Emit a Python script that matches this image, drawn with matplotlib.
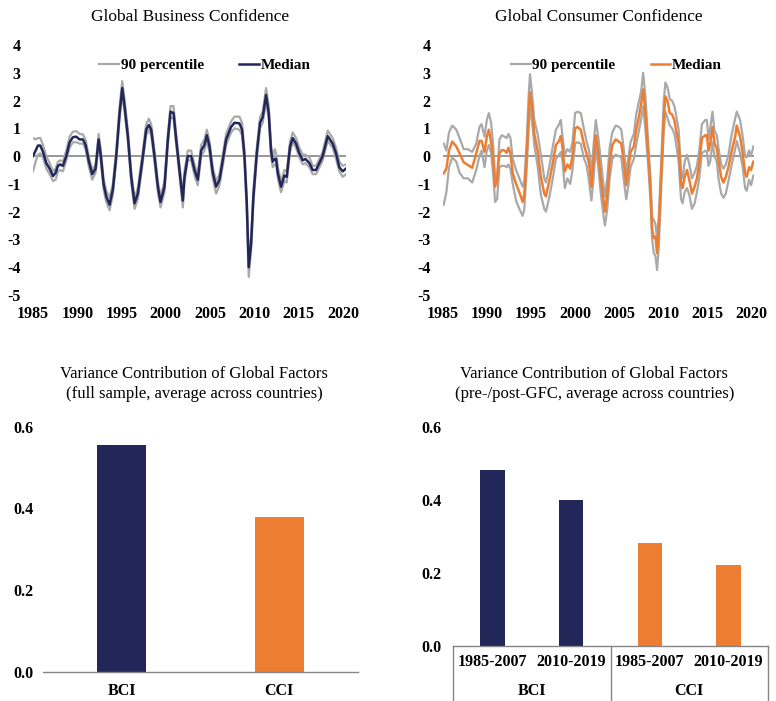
import numpy as np
import matplotlib
matplotlib.use("Agg")
import matplotlib.pyplot as plt
from matplotlib import transforms

plt.rcParams["font.family"] = ["Liberation Serif", "DejaVu Serif"]
plt.rcParams["axes.unicode_minus"] = False

NAVY = "#212759"
ORANGE = "#ED7D31"
GREY = "#A9A9A9"
AXIS_GREY = "#858585"

# ---------------------------------------------------------------------------
# Global business confidence (BCI): median and 90 percentile band
# ---------------------------------------------------------------------------
bci_years = [
    1985.00, 1985.30, 1985.56, 1985.83, 1986.13, 1986.50, 1986.88, 1987.26, 1987.56, 1987.82,
    1988.08, 1988.38, 1988.76, 1989.14, 1989.51, 1989.89, 1990.26, 1990.64, 1990.94, 1991.32,
    1991.69, 1992.07, 1992.41, 1992.63, 1992.97, 1993.27, 1993.65, 1994.02, 1994.40, 1994.78,
    1995.08, 1995.34, 1995.72, 1996.09, 1996.47, 1996.84, 1997.41, 1997.78, 1998.08, 1998.35,
    1998.72, 1999.10, 1999.40, 1999.85, 2000.23, 2000.53, 2000.87, 2001.17, 2001.54, 2001.92,
    2002.11, 2002.48, 2002.86, 2003.24, 2003.61, 2003.99, 2004.36, 2004.63, 2004.93, 2005.30,
    2005.68, 2006.06, 2006.43, 2006.81, 2007.37, 2007.75, 2008.31, 2008.61, 2008.88, 2009.14,
    2009.36, 2009.63, 2009.89, 2010.27, 2010.64, 2010.94, 2011.32, 2011.62, 2011.88, 2012.07,
    2012.30, 2012.45, 2012.64, 2013.01, 2013.39, 2013.65, 2014.03, 2014.33, 2014.70, 2015.08,
    2015.46, 2015.76, 2016.21, 2016.58, 2016.96, 2017.34, 2017.71, 2018.28, 2018.84, 2019.22,
    2019.59, 2019.97, 2020.34,
]
bci_median = [
    0.0, 0.2, 0.38, 0.38, 0.15, -0.25, -0.45, -0.72, -0.6, -0.35,
    -0.3, -0.35, 0.0, 0.5, 0.68, 0.7, 0.6, 0.6, 0.4, -0.2,
    -0.65, -0.45, 0.6, 0.1, -1.0, -1.45, -1.75, -1.2, 0.0, 1.55,
    2.45, 1.8, 0.7, -0.75, -1.7, -1.35, 0.0, 0.95, 1.12, 0.95,
    0.0, -1.1, -1.65, -1.1, 0.6, 1.6, 1.55, 0.6, -0.5, -1.6,
    -0.75, 0.0, 0.0, -0.5, -0.85, 0.2, 0.4, 0.75, 0.35, -0.6,
    -1.1, -0.85, -0.15, 0.6, 1.05, 1.2, 1.18, 0.95, 0.0, -1.7,
    -4.0, -3.15, -1.45, 0.1, 1.2, 1.4, 2.2, 1.55, 0.2, -0.2,
    -0.1, -0.1, -0.6, -1.1, -0.7, -0.75, 0.35, 0.65, 0.45, 0.1,
    -0.15, -0.1, -0.25, -0.5, -0.5, -0.25, 0.0, 0.72, 0.45, 0.1,
    -0.4, -0.55, -0.45,
]
bci_upper = [
    0.65, 0.6, 0.65, 0.65, 0.4, 0.0, -0.25, -0.55, -0.45, -0.2,
    -0.15, -0.2, 0.2, 0.7, 0.88, 0.9, 0.8, 0.78, 0.6, -0.05,
    -0.5, -0.3, 0.8, 0.3, -0.8, -1.25, -1.5, -1.0, 0.2, 1.8,
    2.7, 2.05, 0.9, -0.55, -1.5, -1.15, 0.2, 1.15, 1.35, 1.15,
    0.2, -0.9, -1.45, -0.9, 0.8, 1.8, 1.8, 0.8, -0.3, -1.4,
    -0.55, 0.2, 0.2, -0.3, -0.65, 0.4, 0.6, 0.95, 0.55, -0.4,
    -0.9, -0.65, 0.05, 0.8, 1.25, 1.42, 1.42, 1.2, 0.2, -1.45,
    -3.7, -2.9, -1.2, 0.3, 1.4, 1.6, 2.45, 1.8, 0.4, 0.0,
    0.25, 0.1, -0.4, -0.9, -0.5, -0.55, 0.55, 0.85, 0.65, 0.3,
    0.05, 0.05, -0.05, -0.35, -0.35, -0.1, 0.15, 0.92, 0.65, 0.3,
    -0.2, -0.35, -0.3,
]
bci_lower = [
    -0.55, -0.2, 0.05, 0.1, -0.05, -0.45, -0.65, -0.9, -0.85, -0.55,
    -0.5, -0.55, -0.15, 0.3, 0.5, 0.5, 0.45, 0.45, 0.25, -0.4,
    -0.85, -0.6, 0.45, -0.1, -1.2, -1.65, -1.95, -1.4, -0.2, 1.35,
    2.2, 1.6, 0.5, -0.95, -1.9, -1.55, -0.2, 0.75, 0.95, 0.75,
    -0.2, -1.3, -1.85, -1.3, 0.4, 1.4, 1.35, 0.4, -0.7, -1.85,
    -0.95, -0.15, -0.15, -0.7, -1.05, 0.0, 0.2, 0.55, 0.15, -0.8,
    -1.35, -1.05, -0.35, 0.4, 0.85, 1.0, 0.95, 0.75, -0.2, -1.95,
    -4.35, -3.4, -1.7, -0.1, 1.0, 1.2, 1.95, 1.35, 0.0, -0.4,
    -0.3, -0.3, -0.8, -1.3, -0.9, -0.95, 0.15, 0.5, 0.3, -0.05,
    -0.3, -0.25, -0.4, -0.65, -0.65, -0.4, -0.15, 0.55, 0.3, -0.1,
    -0.55, -0.75, -0.65,
]

# ---------------------------------------------------------------------------
# Global consumer confidence (CCI): median and 90 percentile band
# ---------------------------------------------------------------------------
cci_years = [
    1985.08, 1985.38, 1985.68, 1986.05, 1986.51, 1986.88, 1987.34, 1987.82, 1988.31, 1988.77,
    1989.14, 1989.37, 1989.71, 1989.97, 1990.20, 1990.46, 1990.69, 1990.91, 1991.14, 1991.40,
    1991.67, 1991.97, 1992.23, 1992.42, 1992.65, 1992.91, 1993.29, 1993.66, 1994.04, 1994.23,
    1994.49, 1994.72, 1994.87, 1995.09, 1995.36, 1995.73, 1996.11, 1996.49, 1996.68, 1997.05,
    1997.43, 1997.81, 1998.18, 1998.37, 1998.56, 1998.82, 1999.12, 1999.43, 1999.69, 1999.99,
    2000.25, 2000.63, 2001.01, 2001.27, 2001.57, 2001.84, 2002.06, 2002.33, 2002.59, 2002.89,
    2003.27, 2003.38, 2003.64, 2003.91, 2004.21, 2004.59, 2004.96, 2005.23, 2005.53, 2005.79,
    2006.02, 2006.28, 2006.66, 2006.92, 2007.22, 2007.49, 2007.71, 2007.98, 2008.28, 2008.54,
    2008.73, 2008.92, 2009.11, 2009.29, 2009.48, 2009.78, 2010.05, 2010.24, 2010.50, 2010.73,
    2010.99, 2011.25, 2011.44, 2011.74, 2012.01, 2012.19, 2012.42, 2012.68, 2012.95, 2013.25,
    2013.55, 2013.81, 2014.08, 2014.38, 2014.76, 2014.94, 2015.13, 2015.32, 2015.58, 2015.81,
    2016.07, 2016.26, 2016.56, 2016.83, 2017.09, 2017.39, 2017.77, 2018.15, 2018.33, 2018.71,
    2019.01, 2019.28, 2019.46, 2019.73, 2019.95, 2020.22,
]
cci_median = [
    -0.62, -0.45, 0.2, 0.52, 0.35, 0.1, -0.22, -0.32, -0.42, 0.1,
    0.55, 0.55, 0.15, 0.7, 0.95, 0.5, -0.1, -1.1, -0.85, 0.1,
    0.22, 0.2, 0.12, 0.3, 0.1, -0.62, -1.0, -1.3, -1.65, -1.35,
    0.0, 1.55, 2.3, 1.8, 0.8, 0.2, -0.75, -1.35, -1.45, -0.9,
    -0.3, 0.4, 0.55, 0.72, 0.3, -0.55, -0.3, -0.45, 0.0, 1.0,
    1.05, 0.95, 0.4, 0.1, -0.25, -1.1, -0.25, 0.75, 0.2, -0.75,
    -1.75, -2.0, -1.35, -0.25, 0.4, 0.6, 0.52, 0.45, -0.25, -1.05,
    -0.5, 0.15, 0.35, 0.95, 1.4, 1.9, 2.4, 1.55, 0.1, -1.2,
    -2.65, -2.95, -2.9, -3.5, -2.65, -0.5, 1.4, 2.15, 1.95, 1.55,
    1.5, 1.3, 0.95, 0.45, -1.0, -1.15, -0.75, -0.5, -0.85, -1.35,
    -1.1, -0.8, -0.25, 0.65, 0.75, 0.75, 0.2, 0.45, 1.05, 0.45,
    0.28, -0.15, -0.75, -0.95, -0.75, -0.4, 0.2, 0.7, 1.1, 0.7,
    0.1, -0.62, -0.75, -0.4, -0.5, -0.2,
]
cci_upper = [
    0.45, 0.2, 0.85, 1.1, 0.95, 0.65, 0.25, 0.25, 0.15, 0.45,
    1.05, 1.15, 0.7, 1.3, 1.55, 1.2, 0.4, -0.8, -0.7, 0.6,
    0.75, 0.7, 0.65, 0.8, 0.65, -0.1, -0.5, -0.8, -1.1, -0.9,
    0.5, 2.2, 2.95, 2.3, 1.3, 0.8, 0.05, -0.8, -0.95, -0.4,
    0.3, 0.95, 1.15, 1.3, 0.7, 0.05, 0.25, 0.15, 0.5, 1.55,
    1.6, 1.55, 0.95, 0.55, 0.2, -0.6, 0.3, 1.3, 0.75, -0.1,
    -1.2, -1.45, -0.8, 0.3, 0.85, 1.1, 1.05, 0.95, 0.2, -0.6,
    -0.1, 0.5, 0.8, 1.5, 1.95, 2.35, 3.0, 2.1, 0.5, -0.8,
    -2.2, -2.3, -2.45, -3.0, -2.2, -0.1, 2.0, 2.65, 2.45, 2.05,
    2.0, 1.8, 1.5, 0.95, -0.55, -0.8, -0.2, 0.05, -0.3, -0.8,
    -0.6, -0.35, 0.2, 1.15, 1.3, 1.3, 0.6, 1.0, 1.6, 0.9,
    0.75, 0.3, -0.3, -0.45, -0.3, 0.05, 0.8, 1.35, 1.6, 1.3,
    0.7, 0.0, -0.05, 0.2, 0.0, 0.35,
]
cci_lower = [
    -1.75, -1.3, -0.4, -0.05, -0.2, -0.6, -0.8, -0.8, -0.95, -0.5,
    0.0, 0.2, -0.4, 0.2, 0.4, 0.1, -0.65, -1.65, -1.55, -0.4,
    -0.35, -0.35, -0.4, -0.3, -0.45, -1.0, -1.6, -1.9, -2.15, -1.9,
    -0.5, 1.0, 1.75, 1.3, 0.4, -0.35, -1.4, -1.9, -2.0, -1.5,
    -0.85, -0.1, 0.05, 0.15, -0.2, -1.15, -0.8, -1.0, -0.5, 0.45,
    0.5, 0.45, -0.1, -0.3, -0.9, -1.6, -0.9, 0.3, -0.3, -1.3,
    -2.3, -2.5, -1.9, -0.8, -0.1, 0.05, 0.0, -0.05, -0.9, -1.55,
    -1.1, -0.4, -0.1, 0.4, 0.9, 1.35, 1.8, 0.9, -0.3, -1.6,
    -3.0, -3.5, -3.6, -4.1, -3.3, -1.0, 0.9, 1.6, 1.35, 1.1,
    1.0, 0.8, 0.45, -0.2, -1.55, -1.7, -1.3, -1.15, -1.4, -1.9,
    -1.7, -1.3, -0.8, 0.1, 0.2, 0.15, -0.35, -0.2, 0.5, 0.0,
    -0.2, -0.8, -1.35, -1.5, -1.35, -0.9, -0.3, 0.25, 0.55, 0.1,
    -0.4, -1.15, -1.25, -0.85, -1.05, -0.7,
]

# ---------------------------------------------------------------------------
# Variance contribution of global factors
# ---------------------------------------------------------------------------
full_labels = ["BCI", "CCI"]
full_values = [0.555, 0.38]
full_colors = [NAVY, ORANGE]

period_labels = ["1985-2007", "2010-2019", "1985-2007", "2010-2019"]
period_groups = ["BCI", "CCI"]
period_values = [0.48, 0.40, 0.28, 0.22]
period_colors = [NAVY, NAVY, ORANGE, ORANGE]

TICK_FONT = dict(fontsize=11.5, fontweight="bold")


def draw_confidence(ax, years, median, upper, lower, color, title, xmax, legend_x):
    ax.axhline(0, color=AXIS_GREY, linewidth=1.2, zorder=1)
    ax.plot(years, upper, color=GREY, linewidth=1.6, zorder=2, label="90 percentile")
    ax.plot(years, lower, color=GREY, linewidth=1.6, zorder=2)
    ax.plot(years, median, color=color, linewidth=1.8, zorder=3, label="Median")
    ax.set_xlim(1985, xmax)
    ax.set_ylim(-5, 4)
    ax.set_yticks(np.arange(-5, 5, 1))
    ax.set_xticks(np.arange(1985, 2021, 5))
    ax.tick_params(length=0)
    ax.tick_params(axis="y", pad=9)
    ax.tick_params(axis="x", pad=8)
    for lab in ax.get_xticklabels() + ax.get_yticklabels():
        lab.set_fontsize(TICK_FONT["fontsize"])
        lab.set_fontweight("bold")
    for spine in ax.spines.values():
        spine.set_visible(False)
    ax.set_title(title, fontsize=12.5, pad=17)
    ax.legend(loc="center", bbox_to_anchor=(legend_x, 0.92), ncol=2, frameon=False,
              handlelength=1.3, handletextpad=0.1, columnspacing=2.3,
              prop={"size": 11, "weight": "bold"})


def style_bar_axis(ax, pad_y):
    ax.set_ylim(0, 0.6)
    ax.set_yticks([0.0, 0.2, 0.4, 0.6])
    ax.set_yticklabels([f"{v:.1f}" for v in [0.0, 0.2, 0.4, 0.6]], **TICK_FONT)
    ax.tick_params(length=0)
    ax.tick_params(axis="y", pad=pad_y)
    for side in ("top", "right", "left"):
        ax.spines[side].set_visible(False)
    ax.spines["bottom"].set_color(AXIS_GREY)
    ax.spines["bottom"].set_linewidth(1.0)


fig = plt.figure(figsize=(7.76, 7.01), dpi=100)

ax1 = fig.add_axes([0.0425, 0.5792, 0.4040, 0.3566])
draw_confidence(ax1, bci_years, bci_median, bci_upper, bci_lower, NAVY,
                "Global Business Confidence", 2020.4, 0.548)

ax2 = fig.add_axes([0.5709, 0.5792, 0.4003, 0.3566])
draw_confidence(ax2, cci_years, cci_median, cci_upper, cci_lower, ORANGE,
                "Global Consumer Confidence", 2020.25, 0.558)

# Full-sample variance contribution
ax3 = fig.add_axes([0.0554, 0.0418, 0.4059, 0.3495])
ax3.bar(range(len(full_values)), full_values, width=0.31, color=full_colors)
ax3.set_xlim(-0.5, 1.5)
ax3.set_xticks(range(len(full_labels)))
ax3.set_xticklabels(full_labels, **TICK_FONT)
ax3.tick_params(axis="x", pad=8)
style_bar_axis(ax3, 7)
fig.text(0.250, 0.452, "Variance Contribution of Global Factors\n"
         "(full sample, average across countries)",
         ha="center", va="center", fontsize=12, linespacing=1.3)

# Pre-/post-GFC variance contribution, two-level category axis
ax4 = fig.add_axes([0.5838, 0.0789, 0.4059, 0.3124])
ax4.bar(range(len(period_values)), period_values, width=0.31, color=period_colors)
ax4.set_xlim(-0.5, 3.5)
ax4.set_xticks(range(len(period_labels)))
ax4.set_xticklabels(period_labels, **TICK_FONT)
ax4.tick_params(axis="x", pad=6)
style_bar_axis(ax4, 8)
blend = transforms.blended_transform_factory(ax4.transData, ax4.transAxes)
for xd in (-0.5, 1.5, 3.5):
    ax4.plot([xd, xd], [0, -0.26], transform=blend, color=AXIS_GREY,
             linewidth=1.0, clip_on=False)
for i, grp in enumerate(period_groups):
    ax4.text(0.5 + 2 * i, -0.205, grp, transform=blend, ha="center", va="center",
             **TICK_FONT)
fig.text(0.766, 0.452, "Variance Contribution of Global Factors\n"
         "(pre-/post-GFC, average across countries)",
         ha="center", va="center", fontsize=12, linespacing=1.3)

fig.savefig("out.png", dpi=100, facecolor="white")
